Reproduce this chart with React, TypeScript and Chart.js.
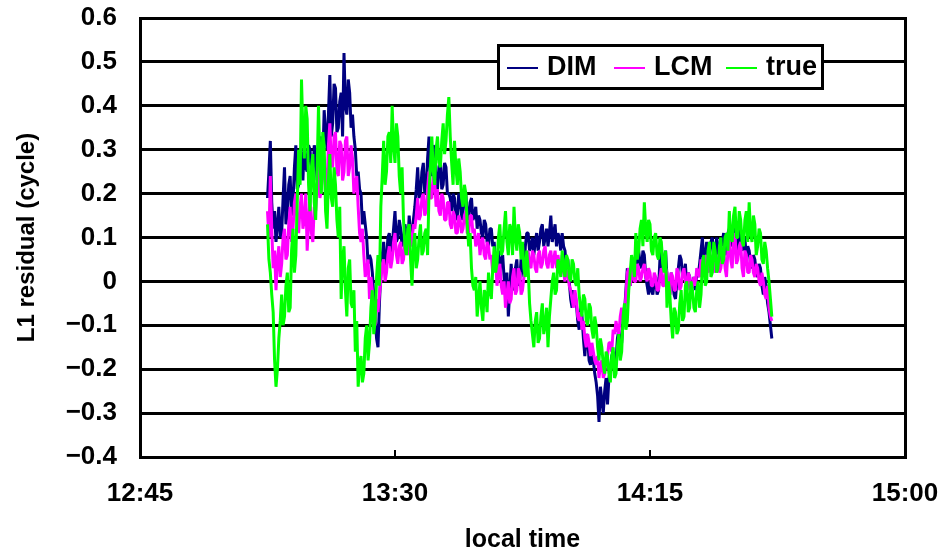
import React, { useEffect, useRef } from "react";
import { Chart, registerables } from "chart.js";

Chart.register(...registerables);

// Sampling of the residual series (minutes after midnight, local time).
// Each series is stored as readings on the half minute plus the readings
// a quarter minute later; the two are interleaved when the chart is built.
const START_MIN = 787.5; // 13:07:30
const STEP_MIN = 0.25;

// L1 residual (cycle), DIM estimate
const dim = [
  0.19, 0.32, 0.12, 0.09, 0.17, 0.11, 0.26, 0.16, 0.24, 0.18,
  0.31, 0.22, 0.29, 0.32, 0.25, 0.30, 0.24, 0.29, 0.26, 0.33,
  0.39, 0.30, 0.47, 0.36, 0.44, 0.35, 0.43, 0.52, 0.38, 0.43,
  0.38, 0.30, 0.25, 0.20, 0.16, 0.10, 0.06, 0.02, -0.08, -0.15,
  0.02, 0.09, 0.05, 0.11, 0.08, 0.16, 0.10, 0.12, 0.09, 0.11,
  0.15, 0.10, 0.17, 0.26, 0.20, 0.27, 0.21, 0.33, 0.24, 0.30,
  0.21, 0.28, 0.22, 0.26, 0.20, 0.16, 0.19, 0.15, 0.19, 0.16,
  0.20, 0.14, 0.19, 0.15, 0.12, 0.14, 0.10, 0.13, 0.08, 0.12,
  0.09, 0.05, 0.02, 0.06, -0.03, -0.08, 0.04, -0.02, 0.05, 0.00,
  0.04, 0.08, 0.11, 0.08, 0.06, 0.11, 0.09, 0.13, 0.10, 0.08,
  0.15, 0.11, 0.08, 0.10, 0.11, 0.07, 0.05, -0.04, -0.02, -0.05,
  -0.11, -0.08, -0.17, -0.13, -0.19, -0.18, -0.23, -0.32, -0.27, -0.25,
  -0.28, -0.20, -0.16, -0.18, -0.11, -0.14, -0.07, 0.03, -0.01, 0.05,
  0.02, 0.07, 0.03, 0.06, -0.01, 0.00, -0.03, 0.01, -0.02, 0.08,
  0.04, 0.01, -0.03, 0.00, -0.04, 0.03, 0.05, 0.02, -0.02, 0.01, -0.01,
  -0.02, 0.01, 0.07, 0.04, 0.09, 0.06, 0.10, 0.05, 0.08, 0.05,
  0.11, 0.07, 0.12, 0.09, 0.13, 0.07, 0.11, 0.08, 0.05, 0.07,
  0.03, 0.05, 0.01, 0.03, -0.03, -0.01, -0.07, -0.13,
];
const dimQuarter = [
  0.25, 0.18, 0.16, 0.13, 0.10, 0.19, 0.13, 0.22, 0.15, 0.26,
  0.21, 0.30, 0.23, 0.26, 0.31, 0.25, 0.31, 0.23, 0.30, 0.27,
  0.34, 0.38, 0.33, 0.45, 0.34, 0.41, 0.33, 0.40, 0.46, 0.35,
  0.33, 0.24, 0.21, 0.13, 0.13, 0.04, 0.05, -0.03, -0.13, -0.05,
  0.06, 0.03, 0.10, 0.06, 0.12, 0.09, 0.14, 0.08, 0.13, 0.08,
  0.11, 0.14, 0.21, 0.19, 0.25, 0.20, 0.28, 0.25, 0.31, 0.22,
  0.26, 0.21, 0.27, 0.20, 0.19, 0.20, 0.14, 0.20, 0.14, 0.19,
  0.15, 0.18, 0.14, 0.17, 0.15, 0.11, 0.14, 0.09, 0.12, 0.08,
  0.04, 0.07, 0.05, 0.01, 0.02, -0.02, -0.01, 0.03, -0.01, 0.05,
  0.01, 0.11, 0.07, 0.10, 0.09, 0.07, 0.12, 0.08, 0.12, 0.11,
  0.09, 0.13, 0.11, 0.07, 0.08, 0.03, 0.00, -0.06, -0.04, -0.09,
  -0.06, -0.13, -0.12, -0.18, -0.15, -0.21, -0.26, -0.24, -0.30, -0.22,
  -0.22, -0.17, -0.20, -0.13, -0.16, -0.09, -0.02, 0.00, 0.04, 0.01,
  0.05, 0.04, 0.07, 0.01, -0.03, -0.02, 0.00, -0.03, 0.05, 0.03,
  0.07, -0.02, 0.02, -0.03, 0.00, 0.06, 0.01, 0.04, 0.02, -0.02, 0.01,
  0.02, 0.04, 0.10, 0.06, 0.05, 0.09, 0.06, 0.10, 0.04, 0.09,
  0.06, 0.11, 0.08, 0.12, 0.09, 0.12, 0.07, 0.10, 0.08, 0.04,
  0.06, 0.02, 0.04, -0.01, 0.01, -0.05, -0.10,
];

// L1 residual (cycle), LCM estimate
const lcm = [
  0.16, 0.24, 0.03, -0.02, 0.08, 0.04, 0.12, 0.06, 0.17, 0.12,
  0.20, 0.11, 0.20, 0.14, 0.07, 0.19, 0.09, 0.16, 0.27, 0.21,
  0.28, 0.22, 0.36, 0.26, 0.34, 0.24, 0.31, 0.25, 0.33, 0.26,
  0.28, 0.22, 0.17, 0.09, 0.06, 0.03, -0.04, -0.02, -0.10, -0.07,
  0.00, 0.05, 0.02, 0.08, 0.05, 0.11, 0.04, 0.09, 0.05, 0.10,
  0.13, 0.09, 0.12, 0.19, 0.15, 0.20, 0.16, 0.25, 0.19, 0.23,
  0.21, 0.15, 0.19, 0.14, 0.18, 0.12, 0.15, 0.11, 0.14, 0.12,
  0.16, 0.11, 0.15, 0.12, 0.09, 0.06, 0.10, 0.05, 0.08, 0.06,
  0.03, -0.01, 0.04, -0.03, -0.06, 0.00, -0.04, 0.03, -0.02, 0.02,
  -0.02, 0.02, 0.07, 0.03, 0.06, 0.02, 0.07, 0.04, 0.08, 0.03,
  0.07, 0.05, 0.03, 0.04, 0.06, 0.00, 0.02, -0.02, -0.06, -0.04,
  -0.09, -0.11, -0.13, -0.12, -0.17, -0.16, -0.19, -0.22, -0.18, -0.21,
  -0.17, -0.14, -0.11, -0.09, -0.12, -0.06, -0.08, 0.02, -0.01, 0.04,
  0.00, 0.03, 0.01, 0.04, 0.00, 0.02, -0.01, 0.01, -0.02, 0.03,
  -0.01, 0.02, -0.03, 0.01, -0.02, 0.02, -0.01, 0.03, -0.02, 0.01, -0.01,
  -0.01, 0.02, 0.05, 0.02, 0.06, 0.03, 0.05, 0.02, 0.05, 0.03,
  0.08, 0.01, 0.10, 0.03, 0.11, 0.05, 0.09, 0.01, 0.06, 0.02,
  0.05, 0.01, 0.03, -0.01, 0.00, -0.04, -0.06, -0.09,
];
const lcmQuarter = [
  0.10, 0.12, 0.07, 0.05, 0.01, 0.10, 0.05, 0.13, 0.09, 0.18,
  0.13, 0.17, 0.12, 0.20, 0.13, 0.11, 0.17, 0.21, 0.19, 0.27,
  0.20, 0.31, 0.27, 0.33, 0.25, 0.32, 0.23, 0.32, 0.24, 0.31,
  0.20, 0.24, 0.11, 0.12, 0.01, 0.05, 0.01, -0.07, -0.04, -0.03,
  0.04, 0.00, 0.06, 0.03, 0.09, 0.06, 0.08, 0.04, 0.09, 0.06,
  0.08, 0.13, 0.15, 0.14, 0.19, 0.15, 0.21, 0.19, 0.24, 0.17,
  0.16, 0.20, 0.14, 0.18, 0.13, 0.16, 0.11, 0.15, 0.11, 0.15,
  0.11, 0.15, 0.11, 0.08, 0.11, 0.09, 0.06, 0.09, 0.05, 0.02,
  0.05, 0.02, -0.01, 0.00, -0.03, -0.05, 0.01, -0.03, 0.03, -0.03,
  0.01, 0.05, 0.04, 0.07, 0.03, 0.06, 0.03, 0.07, 0.04, 0.06,
  0.03, 0.07, 0.06, 0.02, 0.02, 0.04, -0.01, -0.04, -0.02, -0.08,
  -0.07, -0.09, -0.15, -0.14, -0.14, -0.18, -0.17, -0.19, -0.22, -0.18,
  -0.14, -0.16, -0.12, -0.11, -0.08, -0.09, -0.03, 0.03, 0.01, 0.00,
  0.04, 0.00, 0.03, 0.01, 0.03, -0.01, 0.02, -0.02, 0.01, -0.01,
  0.03, -0.02, 0.02, -0.02, 0.03, -0.02, 0.02, 0.00, 0.02, -0.02, 0.01,
  0.03, 0.01, 0.03, 0.05, 0.02, 0.06, 0.03, 0.06, 0.02, 0.06,
  0.03, 0.07, 0.05, 0.09, 0.04, 0.08, 0.03, 0.07, 0.02, 0.06,
  0.02, 0.04, 0.00, 0.02, -0.03, -0.01, -0.08,
];

// L1 residual (cycle), true value
const truth = [
  0.13, 0.02, -0.07, -0.24, -0.13, -0.03, -0.08, 0.02, -0.06, 0.12,
  0.06, 0.30, 0.46, 0.28, 0.37, 0.16, 0.29, 0.14, 0.40, 0.20,
  0.31, 0.12, 0.29, 0.17, 0.22, 0.10, -0.04, 0.08, -0.08, 0.05,
  -0.06, -0.16, -0.24, -0.17, -0.21, -0.10, -0.14, -0.02, -0.09, 0.06,
  0.17, 0.32, 0.25, 0.34, 0.40, 0.27, 0.33, 0.20, 0.14, 0.06,
  0.13, -0.01, 0.11, 0.05, 0.13, 0.07, 0.12, 0.20, 0.33, 0.22,
  0.33, 0.26, 0.36, 0.32, 0.42, 0.27, 0.32, 0.22, 0.25, 0.17,
  0.20, 0.08, 0.03, -0.02, -0.08, 0.00, -0.09, -0.03, 0.02, -0.04,
  0.08, 0.04, 0.13, 0.07, 0.16, 0.06, 0.12, 0.17, 0.07, 0.11,
  0.09, 0.01, 0.03, -0.09, -0.15, -0.07, -0.13, -0.05, -0.10, -0.15,
  -0.04, 0.02, -0.02, 0.04, 0.07, 0.01, 0.05, 0.00, 0.04, -0.01,
  -0.03, -0.08, -0.04, -0.10, -0.06, -0.13, -0.10, -0.18, -0.15, -0.21,
  -0.17, -0.23, -0.15, -0.21, -0.12, -0.16, -0.05, -0.09, 0.02, 0.04,
  0.11, 0.07, 0.14, 0.18, 0.09, 0.13, 0.06, 0.11, 0.05, 0.09,
  0.02, -0.06, -0.03, -0.13, -0.07, -0.11, -0.02, -0.08, 0.00, -0.06, -0.02,
  -0.07, 0.00, -0.03, 0.06, 0.00, 0.09, 0.02, 0.07, 0.03, 0.10,
  0.05, 0.11, 0.16, 0.09, 0.17, 0.10, 0.14, 0.08, 0.16, 0.18,
  0.09, 0.13, 0.08, 0.11, 0.04, 0.07, 0.00, -0.08,
];
const truthQuarter = [
  0.05, -0.03, -0.18, -0.20, -0.09, -0.10, -0.01, -0.07, 0.07, 0.02,
  0.18, 0.22, 0.34, 0.40, 0.22, 0.26, 0.18, 0.25, 0.28, 0.34,
  0.16, 0.23, 0.19, 0.26, 0.14, 0.17, 0.05, -0.02, 0.03, -0.05,
  -0.02, -0.09, -0.19, -0.23, -0.13, -0.18, -0.06, -0.12, 0.01, -0.01,
  0.24, 0.22, 0.33, 0.27, 0.31, 0.36, 0.24, 0.26, 0.08, 0.12,
  0.05, 0.08, 0.03, 0.10, 0.06, 0.11, 0.06, 0.26, 0.25, 0.30,
  0.27, 0.32, 0.29, 0.38, 0.33, 0.22, 0.26, 0.28, 0.19, 0.22,
  0.13, 0.11, -0.01, 0.01, -0.04, -0.06, -0.02, -0.07, -0.02, 0.03,
  0.02, 0.10, 0.06, 0.12, 0.09, 0.13, 0.06, 0.10, 0.13, 0.05,
  0.03, 0.07, -0.05, -0.12, -0.09, -0.14, -0.08, -0.12, -0.06, -0.08,
  0.00, -0.03, 0.05, 0.01, 0.03, 0.06, 0.01, 0.05, 0.00, 0.03,
  -0.06, -0.03, -0.09, -0.05, -0.11, -0.08, -0.15, -0.13, -0.19, -0.16,
  -0.21, -0.17, -0.22, -0.15, -0.18, -0.08, -0.11, -0.02, 0.06, 0.01,
  0.05, 0.12, 0.08, 0.12, 0.14, 0.07, 0.10, 0.06, 0.10, 0.04,
  0.07, 0.00, -0.09, -0.06, -0.12, -0.05, -0.09, -0.01, -0.07, 0.00, -0.06,
  -0.02, -0.06, 0.04, -0.01, 0.07, 0.01, 0.09, 0.02, 0.08, 0.04,
  0.10, 0.07, 0.10, 0.15, 0.10, 0.16, 0.09, 0.14, 0.09, 0.11,
  0.15, 0.06, 0.12, 0.05, 0.09, 0.03, -0.04,
];

// Axis setup
const X_MIN = 765; // 12:45
const X_MAX = 900; // 15:00
const xTickMinutes = [765, 810, 855, 900];
const Y_MIN = -0.4;
const Y_MAX = 0.6;
const Y_STEP = 0.1;

const FONT_FAMILY = '"Liberation Sans", Arial, Helvetica, sans-serif';

// Interleave half-minute and quarter-minute readings into {x, y} points
const toPoints = (main: number[], quarter: number[]) => {
  const pts: { x: number; y: number }[] = [];
  main.forEach((v, i) => {
    pts.push({ x: START_MIN + 2 * i * STEP_MIN, y: v });
    if (i < quarter.length) {
      pts.push({ x: START_MIN + (2 * i + 1) * STEP_MIN, y: quarter[i] });
    }
  });
  return pts;
};

const fmtTime = (m: number) => {
  const h = Math.floor(m / 60);
  const mm = Math.round(m - h * 60);
  return `${h}:${String(mm).padStart(2, "0")}`;
};

const fmtValue = (v: number) => {
  const r = Math.round(v * 10) / 10;
  if (Math.abs(r) < 1e-9) return "0";
  return r < 0 ? "\u2212" + Math.abs(r).toFixed(1) : r.toFixed(1);
};

// Right frame edge, inner x tick marks and the boxed legend inside the plot
const framePlugin = {
  id: "frameAndLegend",
  beforeDatasetsDraw(chart: any) {
    const { ctx, chartArea } = chart;
    const xs = chart.scales.x;
    ctx.save();
    ctx.strokeStyle = "#000";
    ctx.lineWidth = 3;
    ctx.beginPath();
    ctx.moveTo(Math.round(chartArea.right) + 0.5, chartArea.top - 1);
    ctx.lineTo(Math.round(chartArea.right) + 0.5, chartArea.bottom + 2);
    ctx.stroke();
    ctx.lineWidth = 2;
    xTickMinutes.slice(1, -1).forEach((m) => {
      const px = Math.round(xs.getPixelForValue(m));
      ctx.beginPath();
      ctx.moveTo(px, chartArea.bottom);
      ctx.lineTo(px, chartArea.bottom - 7);
      ctx.stroke();
    });
    ctx.restore();
  },
  afterDatasetsDraw(chart: any) {
    const { ctx } = chart;
    const bx = 497;
    const by = 44;
    const bw = 327;
    const bh = 46;
    ctx.save();
    ctx.fillStyle = "#fff";
    ctx.fillRect(bx, by, bw, bh);
    ctx.strokeStyle = "#000";
    ctx.lineWidth = 3;
    ctx.strokeRect(bx + 1.5, by + 1.5, bw - 3, bh - 3);
    const entryX = [507, 614, 726];
    const cy = by + 23;
    ctx.font = `bold 27px ${FONT_FAMILY}`;
    ctx.textBaseline = "middle";
    ctx.textAlign = "left";
    chart.data.datasets.forEach((ds: any, i: number) => {
      const x = entryX[i];
      ctx.strokeStyle = ds.borderColor;
      ctx.lineWidth = 2;
      ctx.beginPath();
      ctx.moveTo(x, cy + 1);
      ctx.lineTo(x + 31, cy + 1);
      ctx.stroke();
      ctx.fillStyle = "#000";
      ctx.fillText(ds.label, x + 40, cy + 1);
    });
    ctx.restore();
  },
};

export default function App() {
  const canvasRef = useRef<HTMLCanvasElement | null>(null);

  useEffect(() => {
    if (!canvasRef.current) return;
    const chart = new Chart(canvasRef.current, {
      type: "line",
      data: {
        datasets: [
          { label: "DIM", data: toPoints(dim, dimQuarter), borderColor: "#000080", borderWidth: 3, order: 3 },
          { label: "LCM", data: toPoints(lcm, lcmQuarter), borderColor: "#FF00FF", borderWidth: 3, order: 2 },
          { label: "true", data: toPoints(truth, truthQuarter), borderColor: "#00FF00", borderWidth: 3, order: 1 },
        ],
      },
      options: {
        responsive: true,
        maintainAspectRatio: false,
        animation: false,
        layout: { padding: { left: 0, top: 18, right: 38, bottom: 0 } },
        plugins: { legend: { display: false }, tooltip: { enabled: false } },
        elements: {
          point: { radius: 0 },
          line: { tension: 0, borderJoinStyle: "bevel", fill: false },
        },
        scales: {
          x: {
            type: "linear",
            min: X_MIN,
            max: X_MAX,
            afterBuildTicks: (s: any) => {
              s.ticks = xTickMinutes.map((v) => ({ value: v }));
            },
            afterFit: (s: any) => {
              s.height = 98;
              s.paddingLeft = 0;
              s.paddingRight = 0;
            },
            grid: { display: false, drawTicks: false },
            border: { display: false },
            ticks: {
              callback: (v: any) => fmtTime(Number(v)),
              color: "#000",
              font: { family: FONT_FAMILY, size: 26, weight: "bold" },
              padding: 21,
              maxRotation: 0,
              autoSkip: false,
            },
            title: {
              display: true,
              text: "local time",
              color: "#000",
              font: { family: FONT_FAMILY, size: 25, weight: "bold" },
              padding: { top: 0, bottom: 0 },
            },
          },
          y: {
            min: Y_MIN,
            max: Y_MAX,
            afterFit: (s: any) => {
              s.width = 140;
              s.paddingTop = 0;
              s.paddingBottom = 0;
            },
            grid: { color: "#000", lineWidth: 3, drawTicks: false },
            border: { display: true, color: "#000", width: 3 },
            ticks: {
              stepSize: Y_STEP,
              callback: (v: any) => fmtValue(Number(v)),
              color: "#000",
              font: { family: FONT_FAMILY, size: 26, weight: "bold" },
              padding: 23,
            },
            title: {
              display: true,
              text: "L1 residual (cycle)",
              color: "#000",
              font: { family: FONT_FAMILY, size: 24, weight: "bold" },
              padding: { top: 13, bottom: 0 },
            },
          },
        },
      },
      plugins: [framePlugin],
    } as any);
    return () => chart.destroy();
  }, []);

  return (
    <div style={{ position: "fixed", left: 0, top: 0, width: 943, height: 555, background: "#fff" }}>
      <canvas ref={canvasRef} />
    </div>
  );
}
